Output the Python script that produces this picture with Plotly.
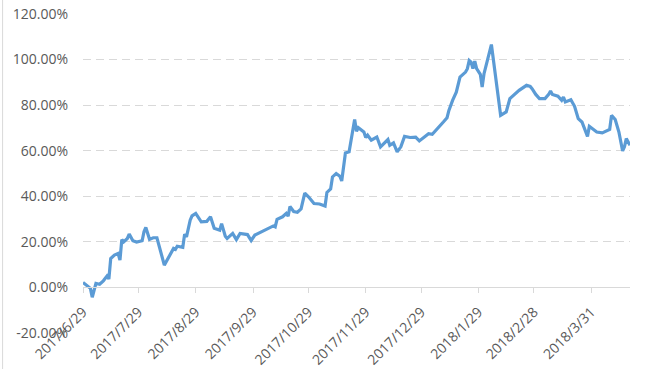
import plotly.graph_objects as go

dates = [
    "2017-06-29", "2017-07-03", "2017-07-04", "2017-07-06", "2017-07-08", "2017-07-10",
    "2017-07-12", "2017-07-13", "2017-07-14", "2017-07-16", "2017-07-18", "2017-07-19",
    "2017-07-20", "2017-07-21", "2017-07-23", "2017-07-24", "2017-07-26", "2017-07-28",
    "2017-07-31", "2017-08-01", "2017-08-02", "2017-08-04", "2017-08-06", "2017-08-08",
    "2017-08-12", "2017-08-14", "2017-08-16", "2017-08-17", "2017-08-18", "2017-08-19",
    "2017-08-22", "2017-08-23", "2017-08-24", "2017-08-26", "2017-08-27", "2017-08-29",
    "2017-09-01", "2017-09-04", "2017-09-06", "2017-09-08", "2017-09-11", "2017-09-12",
    "2017-09-14", "2017-09-15", "2017-09-18", "2017-09-20", "2017-09-22", "2017-09-26",
    "2017-09-28", "2017-09-30", "2017-10-10", "2017-10-11", "2017-10-12", "2017-10-15",
    "2017-10-17", "2017-10-18", "2017-10-19", "2017-10-21", "2017-10-23", "2017-10-25",
    "2017-10-27", "2017-10-29", "2017-11-01", "2017-11-04", "2017-11-07", "2017-11-08",
    "2017-11-10", "2017-11-11", "2017-11-13", "2017-11-15", "2017-11-16", "2017-11-18",
    "2017-11-20", "2017-11-22", "2017-11-23", "2017-11-24", "2017-11-25", "2017-11-28",
    "2017-11-29", "2017-11-30", "2017-12-02", "2017-12-05", "2017-12-07", "2017-12-11",
    "2017-12-12", "2017-12-14", "2017-12-16", "2017-12-18", "2017-12-20", "2017-12-23",
    "2017-12-26", "2017-12-28", "2018-01-02", "2018-01-04", "2018-01-07", "2018-01-10",
    "2018-01-12", "2018-01-13", "2018-01-15", "2018-01-17", "2018-01-19", "2018-01-22",
    "2018-01-23", "2018-01-24", "2018-01-25", "2018-01-26", "2018-01-27", "2018-01-28",
    "2018-01-30", "2018-01-31", "2018-02-01", "2018-02-02", "2018-02-05", "2018-02-10",
    "2018-02-13", "2018-02-15", "2018-02-20", "2018-02-24", "2018-02-26", "2018-02-27",
    "2018-03-01", "2018-03-03", "2018-03-06", "2018-03-08", "2018-03-09", "2018-03-10",
    "2018-03-13", "2018-03-15", "2018-03-16", "2018-03-17", "2018-03-20", "2018-03-22",
    "2018-03-24", "2018-03-26", "2018-03-29", "2018-03-30", "2018-04-03", "2018-04-06",
    "2018-04-10", "2018-04-11", "2018-04-13", "2018-04-15", "2018-04-16", "2018-04-17",
    "2018-04-18", "2018-04-19", "2018-04-21",
]

returns = [
    2.2, -0.4, -4.3, 1.8, 1.4, 2.9,
    5.0, 3.7, 12.7, 14.2, 14.9, 12.0,
    21.0, 20.0, 21.5, 23.4, 20.5, 19.9,
    20.5, 24.4, 26.3, 21.1, 21.8, 21.8,
    9.8, 12.7, 15.2, 17.1, 16.7, 18.1,
    17.6, 23.4, 22.2, 29.5, 31.4, 32.5,
    28.8, 29.0, 31.0, 26.0, 25.1, 28.0,
    22.5, 21.5, 23.7, 21.0, 23.7, 23.2,
    20.6, 23.0, 27.0, 26.6, 29.9, 31.0,
    32.5, 31.3, 35.5, 33.3, 33.0, 34.5,
    41.4, 39.8, 36.8, 36.6, 35.7, 41.7,
    43.2, 48.5, 50.0, 48.8, 46.7, 59.0,
    59.5, 70.4, 73.7, 68.5, 70.1, 68.2,
    65.8, 66.8, 64.6, 66.0, 61.7, 64.9,
    62.4, 63.4, 59.5, 61.7, 66.3, 65.8,
    66.0, 64.3, 67.5, 67.2, 69.7, 72.6,
    74.5, 77.7, 82.1, 85.7, 92.3, 94.5,
    96.0, 99.6, 98.9, 96.0, 99.3, 96.0,
    93.5, 87.9, 93.8, 96.7, 106.6, 75.5,
    77.0, 82.9, 86.5, 88.7, 88.2, 87.2,
    84.7, 82.9, 82.9, 84.7, 86.2, 84.7,
    83.9, 82.1, 83.6, 81.4, 82.4, 79.5,
    74.1, 72.6, 66.3, 70.7, 68.2, 67.8,
    69.3, 75.5, 73.7, 68.2, 64.6, 59.9,
    61.7, 65.3, 62.4,
]

x_tick_vals = ["2017-06-29", "2017-07-29", "2017-08-29", "2017-09-29", "2017-10-29",
               "2017-11-29", "2017-12-29", "2018-01-29", "2018-02-28", "2018-03-31"]
x_tick_text = ["2017/6/29", "2017/7/29", "2017/8/29", "2017/9/29", "2017/10/29",
               "2017/11/29", "2017/12/29", "2018/1/29", "2018/2/28", "2018/3/31"]
y_tick_vals = [-20, 0, 20, 40, 60, 80, 100, 120]
y_tick_text = ["-20.00%", "0.00%", "20.00%", "40.00%", "60.00%", "80.00%", "100.00%", "120.00%"]

y_min, y_max = -20, 120

fig = go.Figure()
fig.add_trace(go.Scatter(
    x=dates, y=returns, mode="lines",
    line=dict(color="#5B9BD5", width=3.2),
    hoverinfo="skip",
))

font = dict(family="Open Sans, Liberation Sans, sans-serif", size=14, color="#595959")

fig.update_layout(
    width=648, height=369,
    margin=dict(l=83, r=18, t=14, b=36),
    paper_bgcolor="white", plot_bgcolor="white",
    showlegend=False,
    font=font,
    xaxis=dict(
        type="date",
        range=["2017-06-29", "2018-04-21"],
        tickvals=x_tick_vals, ticktext=x_tick_text,
        tickangle=-45,
        showgrid=False, zeroline=False,
        showline=True, linecolor="#D9D9D9", linewidth=1,
        ticks="outside", ticklen=5, tickcolor="#D9D9D9",
        ticklabelstandoff=5,
        anchor="free", position=(0 - y_min) / (y_max - y_min),
        automargin=False,
        tickfont=font,
    ),
    yaxis=dict(
        range=[y_min, y_max],
        tickvals=y_tick_vals, ticktext=y_tick_text,
        showgrid=True, gridcolor="#D9D9D9", griddash="8px,5px", gridwidth=1.3,
        zeroline=False, showline=False,
        ticks="", ticklabelstandoff=14,
        automargin=False,
        tickfont=font,
    ),
    shapes=[dict(type="line", xref="paper", yref="paper",
                 x0=-0.147, x1=-0.147, y0=-0.12, y1=1.05,
                 line=dict(color="#D9D9D9", width=1))],
)

fig.write_html("out.html")
